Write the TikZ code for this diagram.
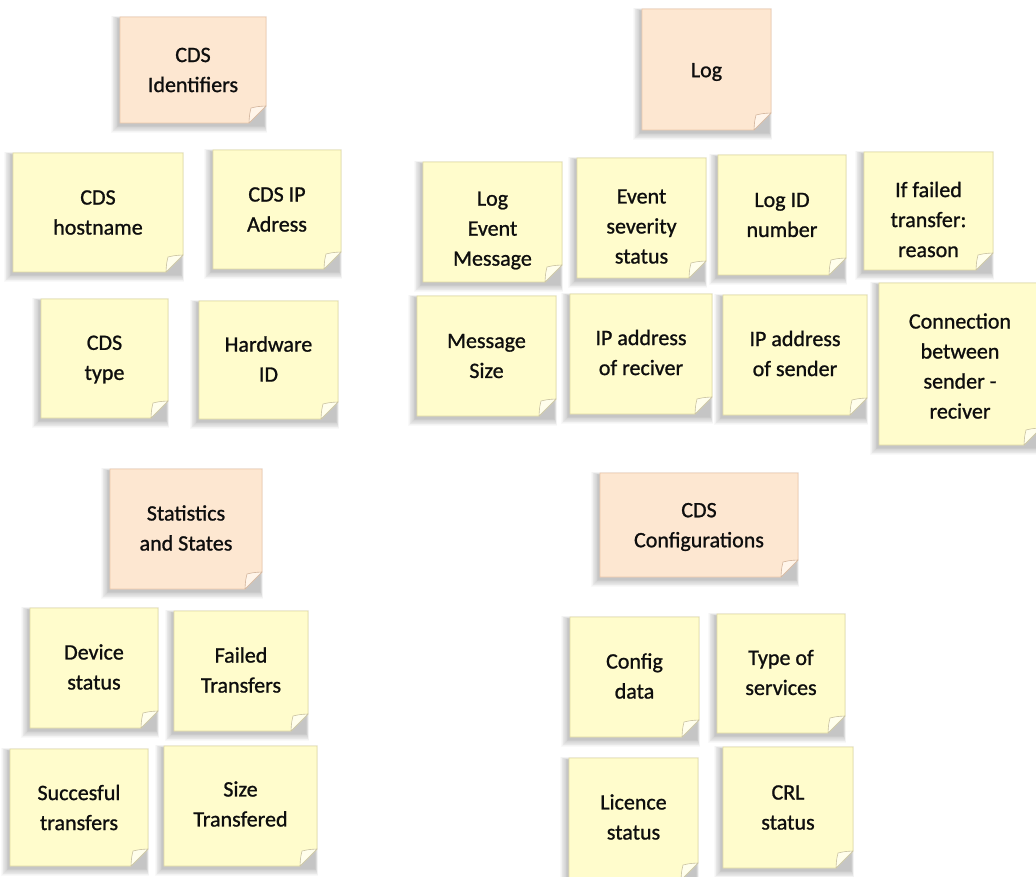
\documentclass[tikz,border=0pt]{standalone}
\usepackage{fontspec}
\setmainfont{Carlito}
\newfontfamily\notefont{Carlito}[FakeBold=1.0]

% sticky note colours
\definecolor{yelFill}{HTML}{FFFCCC}
\definecolor{yelLine}{HTML}{E2DBA4}
\definecolor{yelFlap}{HTML}{FFFEEC}
\definecolor{yelCurl}{HTML}{C9C2A0}
\definecolor{pchFill}{HTML}{FDE7D1}
\definecolor{pchLine}{HTML}{EDC8AA}
\definecolor{pchFlap}{HTML}{FFF5EA}
\definecolor{pchCurl}{HTML}{D3B59C}
\definecolor{noteText}{HTML}{0E0E0E}

\def\notefold{17}

\tikzset{
  notetext/.style={align=center, inner sep=0pt, text=noteText,
                   font=\notefont\fontsize{22}{30}\selectfont},
  notebody/.style={fill=#1Fill, draw=#1Line, line width=0.8pt},
  noteflap/.style={fill=#1Flap, draw=#1Curl, line width=0.6pt, line join=round},
}

% paper of one note: soft shadow, body with cut corner, curled flap
% #1 x0, #2 y0, #3 x1, #4 y1, #5 colour set
\newcommand\notepaper[5]{%
  \foreach \i in {1,...,10}{%
    \fill[black, opacity=0.022]
      (#1-1-0.8*\i, #2+2-0.3*\i) rectangle (#3-2+0.3*\i, #4+2+0.8*\i);
  }
  \path[notebody=#5]
    (#1,#2) -- (#3,#2) -- (#3,#4-\notefold) -- (#3-\notefold,#4) -- (#1,#4) -- cycle;
  \path[noteflap=#5]
    (#3-\notefold,#4)
      .. controls (#3-\notefold+0.5,#4-0.5*\notefold) .. (#3-\notefold+2,#4-\notefold+2)
      .. controls (#3-0.5*\notefold,#4-\notefold+0.5) .. (#3,#4-\notefold) -- cycle;
}

% whole note with its text node
% [#1] vertical text shift, #2 name, #3 x0, #4 y0, #5 x1, #6 y1, #7 colour set, #8 text
\newcommand\stickynote[8][0]{%
  \notepaper{#3}{#4}{#5}{#6}{#7}
  \node[notetext] (#2) at ({(#3+#5)/2}, {(#4+#6)/2+#1}) {#8};
}

\begin{document}
\begin{tikzpicture}[x=1pt, y=-1pt]
  \useasboundingbox (0,0) rectangle (1036,877);
  \fill[white] (0,0) rectangle (1036,877);

  % CDS identifiers
  \stickynote{cdsid}{120}{17}{266}{123}{pch}{CDS\\Identifiers}
  \stickynote{host}{13}{153}{183}{272}{yel}{CDS\\hostname}
  \stickynote{ipadr}{213}{150}{341}{269}{yel}{CDS IP\\Adress}
  \stickynote[1]{type}{41}{299}{168}{418}{yel}{CDS\\type}
  \stickynote[-1]{hwid}{199}{301}{338}{419}{yel}{Hardware\\ID}

  % log
  \stickynote[2.5]{log}{642}{9}{771}{130}{pch}{Log}
  \stickynote[8.5]{logmsg}{423}{162}{562}{282}{yel}{Log\\Event\\Message}
  \stickynote[8.5]{sev}{577}{158}{706}{278}{yel}{Event\\severity\\status}
  \stickynote{logid}{718}{155}{846}{275}{yel}{Log ID\\number}
  \notepaper{864}{152}{993}{270}{yel}
  \begin{scope}
    \clip (864,152) -- (993,152) -- (993,253) -- (976,270) -- (864,270) -- cycle;
    \node[notetext] (failreason) at (928.5,234.5) {If failed\\transfer:\\reason\\for};
  \end{scope}
  \stickynote{msgsize}{417}{296}{556}{416}{yel}{Message\\Size}
  \stickynote[-1.5]{iprecv}{570}{294}{712}{414}{yel}{IP address\\of reciver}
  \stickynote[-1.5]{ipsend}{723}{295}{867}{415}{yel}{IP address\\of sender}
  \stickynote[2]{conn}{879}{283}{1041}{445}{yel}{Connection\\between\\sender -\\reciver}

  % statistics and states
  \stickynote[-1]{stats}{110}{469}{262}{589}{pch}{Statistics\\and States}
  \stickynote[-1]{devst}{30}{608}{158}{728}{yel}{Device\\status}
  \stickynote[-1]{failtr}{174}{611}{308}{731}{yel}{Failed\\Transfers}
  \stickynote{succ}{10}{749}{148}{866}{yel}{Succesful\\transfers}
  \stickynote[-2]{size}{164}{746}{317}{866}{yel}{Size\\Transfered}

  % configurations
  \stickynote[2]{conf}{600}{473}{798}{577}{pch}{CDS\\Configurations}
  \stickynote[-1]{cfgdata}{570}{617}{699}{737}{yel}{Config\\data}
  \stickynote[-1]{svc}{717}{614}{845}{733}{yel}{Type of\\services}
  \stickynote[-2]{lic}{569}{758}{698}{880}{yel}{Licence\\status}
  \stickynote{crl}{723}{747}{853}{868}{yel}{CRL\\status}
\end{tikzpicture}
\end{document}
